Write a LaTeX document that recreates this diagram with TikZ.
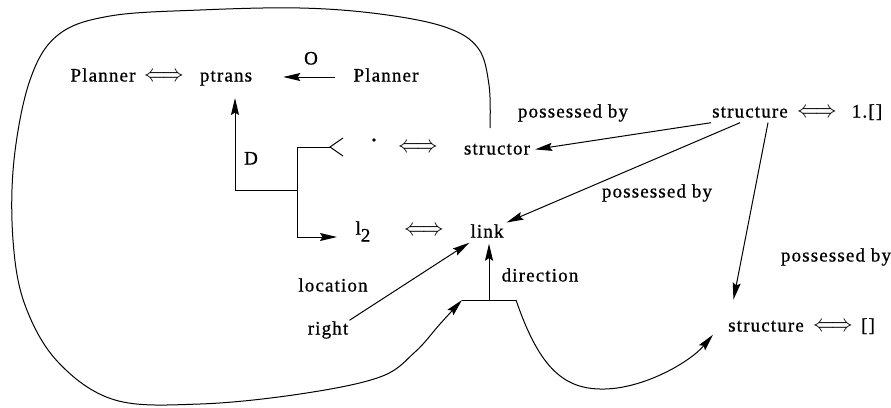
\documentclass[tikz,border=0pt]{standalone}
\usepackage{fontspec}
\setmainfont[LetterSpace=6,FakeBold=0.8]{Liberation Serif}
\usetikzlibrary{arrows.meta}
\newcommand{\dbl}{\scalebox{1.25}[1.4]{$\Longleftrightarrow$}}
\begin{document}
\begin{tikzpicture}[x=1pt,y=-1pt,
  lbl/.style={inner sep=1pt, text height=13pt, text depth=4pt, font=\fontsize{19}{21}\selectfont},
  ln/.style={line width=1pt},
  arr/.style={ln, -{Stealth[length=17pt,width=8pt,inset=2.5pt]}}]
\useasboundingbox (0,0) rectangle (891,407);
% top row
\node[lbl] (p1) at (103,77) {Planner};
\node[lbl] (e1) at (164,77) {\dbl};
\node[lbl] (ptrans) at (226,77) {ptrans};
\node[lbl] (p2) at (386,77) {Planner};
\node[lbl] (o) at (311,60) {O};
\draw[arr, shorten <=17pt, shorten >=30pt] (p2.west) -- (ptrans.east);
% D bracket
\coordinate (dtip) at (235,98);
\coordinate (dL) at (235,190);
\coordinate (dM) at (297,190);
\coordinate (fT) at (297,147);
\coordinate (fB) at (297,237);
\coordinate (fk) at (330,147);
\coordinate (fku) at (343,138);
\coordinate (fkd) at (343,156);
\coordinate (ltip) at (337,237);
\node[lbl] (D) at (251,160) {D};
\draw[arr] (dM) -- (dL) -- (dtip);
\draw[ln] (fT) -- (fB);
\draw[arr] (fB) -- (ltip);
\draw[ln] (fT) -- (fk);
\draw[ln] (fku) -- (fk) -- (fkd);
\node[circle, fill, inner sep=1.4pt] (dot) at (374,140) {};
\node[lbl] (e2) at (418,148) {\dbl};
\node[lbl] (structor) at (497,150) {structor};
\node[lbl] (l2) at (363,230) {l\raisebox{-7pt}{2}};
\node[lbl] (e3) at (424,231) {\dbl};
\node[lbl] (link) at (487,233) {link};
\node[lbl] (location) at (333,287) {location};
\node[lbl] (right) at (328,330) {right};
\node[lbl] (direction) at (540,277) {direction};
% right side
\node[lbl] (s1) at (750,113) {structure};
\node[lbl] (e4) at (817,113) {\dbl};
\node[lbl] (one) at (867,113) {1.[]};
\node[lbl] (pb1) at (573,113) {possessed by};
\node[lbl] (pb2) at (657,193) {possessed by};
\node[lbl] (pb3) at (836,257) {possessed by};
\node[lbl] (s2) at (766,327) {structure};
\node[lbl] (e5) at (833,327) {\dbl};
\node[lbl] (empt) at (868,327) {[]};
% connectors
\draw[arr] (right.north east) -- (link.south west);
\coordinate (bl) at (462,300);
\coordinate (bm) at (489,300);
\coordinate (br) at (516,300);
\draw[arr, shorten >=1pt] (bm) -- (bm |- link.south);
\draw[arr, shorten >=4pt] (s1.south west) -- (structor.east);
\draw[arr, shorten >=2pt] ([xshift=-10pt]s1.south) -- (link.north east);
\draw[arr, shorten >=18pt] ([xshift=18pt]s1.south) -- ([xshift=-36pt]s2.north);
% blob
\coordinate (bs) at (490,128);
\draw[arr] plot[smooth, tension=0.6] coordinates {(bs) (489,85) (478,48) (445,27) (380,14) (300,8) (200,10) (110,16) (58,35) (30,80) (14,160) (13,240) (25,305) (58,362) (115,400) (200,404) (300,394) (380,377) (415,352) (440,324) (bl)};
\draw[ln] (bl) -- (br);
\draw[arr] (br) .. controls (540,370) and (565,390) .. (605,389) .. controls (645,388) and (690,362) .. ([xshift=-14pt,yshift=2pt]s2.south west);
\end{tikzpicture}
\end{document}
